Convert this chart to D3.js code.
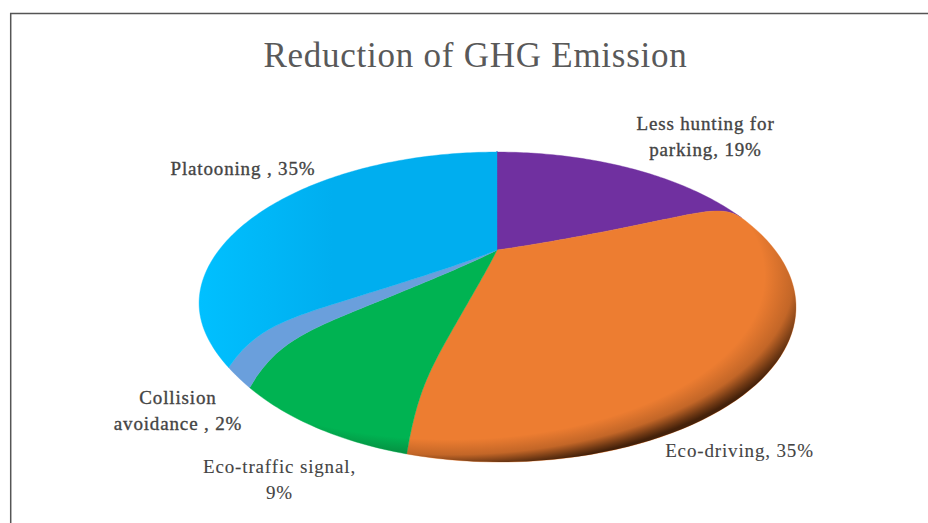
<!DOCTYPE html>
<html>
<head>
<meta charset="utf-8">
<script src="https://cdn.jsdelivr.net/npm/d3@7"></script>
<style>
  html, body { margin: 0; padding: 0; background: #fff; }
  svg { display: block; }
  text { font-family: "Liberation Serif", serif; }
</style>
</head>
<body>
<div id="chart"></div>
<script>
var categories = ["Less hunting for parking", "Eco-driving", "Eco-traffic signal", "Collision avoidance", "Platooning"]
var values = [19, 35, 9, 2, 35]
var colors = ["#7030a0", "#ed7d31", "#00b352", "#6a9fdc", "url(#blueFill)"]
var labelLines = [
    ["Less hunting for", "parking, 19%"],
    ["Eco-driving, 35%"],
    ["Eco-traffic signal,", "9%"],
    ["Collision", "avoidance , 2%"],
    ["Platooning , 35%"]
]
var chartTitle = "Reduction of GHG Emission"

var width = 928
var height = 523

var svg = d3.select("#chart").append("svg")
    .attr("width", width)
    .attr("height", height)

var defs = svg.append("defs")

// lighter blue towards the left rim
var blue = defs.append("linearGradient").attr("id", "blueFill")
blue.append("stop").attr("offset", "0%").attr("stop-color", "#00c0ff")
blue.append("stop").attr("offset", "45%").attr("stop-color", "#00aeef")

// dark bevel along the lower right of the pie
var rim = defs.append("radialGradient").attr("id", "rimShade")
    .attr("cx", 0.42).attr("cy", 0.4).attr("r", 0.62)
rim.append("stop").attr("offset", "85%").attr("stop-color", "#1a0a00").attr("stop-opacity", 0)
rim.append("stop").attr("offset", "93%").attr("stop-color", "#1a0a00").attr("stop-opacity", 0.2)
rim.append("stop").attr("offset", "97.5%").attr("stop-color", "#1a0a00").attr("stop-opacity", 0.6)
rim.append("stop").attr("offset", "100%").attr("stop-color", "#1a0a00").attr("stop-opacity", 0.8)

// frame
svg.append("path")
    .attr("d", "M10.7," + height + "V13.5H" + width)
    .attr("fill", "none")
    .attr("stroke", "#555")
    .attr("stroke-width", 1.5)

svg.append("text")
    .attr("x", 475.5)
    .attr("y", 67)
    .attr("text-anchor", "middle")
    .style("font-size", "35px")
    .style("letter-spacing", "0.75px")
    .style("fill", "#595959")
    .text(chartTitle)

// tilted disc: pie angle and radius (0-1) to screen position
var cx = 497, cy = 250, bx = 278, by = 134, persp = 0.368

function project(angle, r) {
    var a = angle + 0.12 * Math.sin(angle)
    var s = Math.sin(a), c = Math.cos(a)
    var den = 1 + persp * r * c
    // surface is domed, it rises inside the rim and drops back at the edge
    var dome = 19 * Math.pow(1 + persp * c, -1.8) * Math.pow(r, 1.5) * (1 - Math.pow(r, 12))
    // rim is pinched in a little at the lower left
    var off = (a - 3.85) / (a > 3.85 ? 0.35 : 0.7)
    var pinch = 8 * r * r * Math.exp(-off * off)
    return [cx + bx * r * s / den + pinch, cy - by * r * c / den - dome]
}

var line = d3.line()

function slicePath(d) {
    var pts = []
    d3.range(0, 1.001, 0.02).forEach(function(r) { pts.push(project(d.startAngle, r)) })
    var n = Math.ceil((d.endAngle - d.startAngle) * 60)
    d3.range(1, n + 1).forEach(function(i) {
        pts.push(project(d.startAngle + (d.endAngle - d.startAngle) * i / n, 1))
    })
    d3.range(1, -0.001, -0.02).forEach(function(r) { pts.push(project(d.endAngle, r)) })
    return line(pts) + "Z"
}

var pie = d3.pie().sort(null).value(function(d) { return d })
var slices = pie(values)

svg.selectAll("path.slice")
    .data(slices)
    .enter()
    .append("path")
    .attr("class", "slice")
    .attr("d", slicePath)
    .attr("fill", function(d, i) { return colors[i] })
    .attr("stroke", function(d, i) { return colors[i] })
    .attr("stroke-width", 0.4)
    .attr("stroke-linejoin", "round")

svg.append("path")
    .attr("d", line(d3.range(0, 361, 2).map(function(t) {
        return project(t * Math.PI / 180, 1)
    })) + "Z")
    .attr("fill", "url(#rimShade)")

// label anchors, same order as categories
var labelX = [705.5, 739.5, 279.5, 178, 243]
var labelY = [130, 457, 473, 404, 175]
var labelStep = [26, 0, 26, 26, 0]

categories.forEach(function(name, i) {
    var t = svg.append("text")
        .attr("class", "label")
        .attr("text-anchor", "middle")
        .style("font-size", "19px")
        .style("letter-spacing", "0.85px")
        .style("fill", "#444")
        .style("stroke", "#444")
        .style("stroke-width", i == 1 || i == 2 ? 0.1 : 0.35)
    labelLines[i].forEach(function(l, j) {
        t.append("tspan")
            .attr("x", labelX[i])
            .attr("y", labelY[i] + j * labelStep[i])
            .text(l)
    })
})
</script>
</body>
</html>
